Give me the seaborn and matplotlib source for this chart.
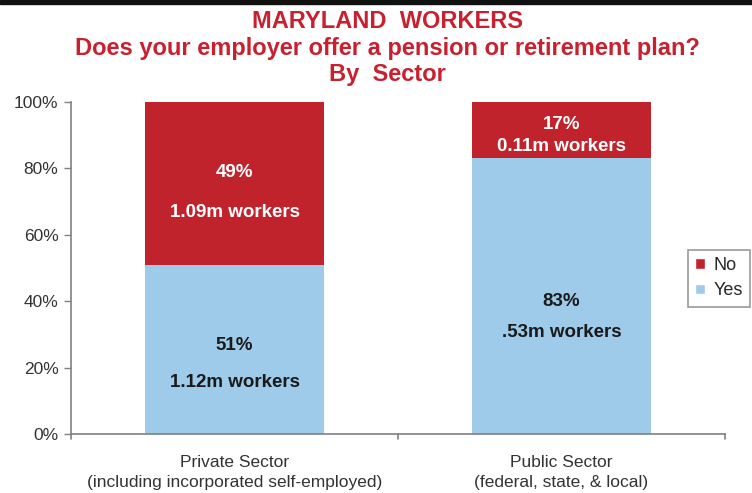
import matplotlib
matplotlib.use("Agg")
import matplotlib.pyplot as plt
import matplotlib.transforms as mtransforms
from matplotlib.patches import Patch, Rectangle
import seaborn as sns
import pandas as pd

# --- data ---------------------------------------------------------------
sectors = ["Private Sector\n(including incorporated self-employed)",
           "Public Sector\n(federal, state, & local)"]
yes_pct = [51, 83]
no_pct = [49, 17]
yes_workers = ["1.12m workers", ".53m workers"]
no_workers = ["1.09m workers", "0.11m workers"]
y_ticks = [0, 20, 40, 60, 80, 100]

# --- style --------------------------------------------------------------
RED = "#C1232C"
BLUE = "#9ECBEA"
TITLE_RED = "#C8202E"
FONT = ["Liberation Sans", "DejaVu Sans"]

sns.set_theme(style="white")
plt.rcParams["font.family"] = FONT

df = pd.DataFrame({"sector": sectors, "yes": yes_pct, "no": no_pct})
df["total"] = df["yes"] + df["no"]

fig = plt.figure(figsize=(7.52, 4.93), dpi=100)
ax = fig.add_axes([71 / 752, 1 - 434 / 493, 654 / 752, 332 / 493])

# stacked bars: full height in red, "Yes" share drawn over it in blue
sns.barplot(data=df, x="sector", y="total", color=RED, width=0.55,
            saturation=1, ax=ax, linewidth=0)
sns.barplot(data=df, x="sector", y="yes", color=BLUE, width=0.55,
            saturation=1, ax=ax, linewidth=0)

ax.set_ylim(0, 100)
ax.set_xlim(-0.5, 1.5)
ax.set_yticks(y_ticks)
ax.set_yticklabels([f"{t}%" for t in y_ticks], fontsize=12.5, color="#333333")
ax.set_xlabel("")
ax.set_ylabel("")
for lbl in ax.get_xticklabels():
    lbl.set_linespacing(1.45)
ax.tick_params(axis="x", length=0, labelsize=12.5, labelcolor="#333333", pad=15)
ax.tick_params(axis="y", left=True, length=5, width=1, color="#808080", pad=4)
for s in ["top", "right"]:
    ax.spines[s].set_visible(False)
for s in ["left", "bottom"]:
    ax.spines[s].set_color("#808080")
    ax.spines[s].set_linewidth(1.2)

# category separators on the x axis
for xb in [-0.5, 0.5, 1.5]:
    ax.plot([xb, xb], [0, -0.015], transform=ax.get_xaxis_transform(),
            color="#808080", lw=1.2, clip_on=False)

# segment labels: percentage above, worker count below (offsets in pixels)
pct_dy_no = [11, 6]
wk_dy_no = [-29, -16]
pct_dy_yes = [4, -5]
wk_dy_yes = [-33, -36]

def label(x, y, text, dy, color):
    tr = mtransforms.offset_copy(ax.transData, fig=fig, y=dy, units="dots")
    ax.text(x, y, text, transform=tr, ha="center", va="center",
            fontsize=13.5, fontweight="bold", color=color)

for i in range(len(sectors)):
    mid_yes = yes_pct[i] / 2
    mid_no = yes_pct[i] + no_pct[i] / 2
    label(i, mid_no, f"{no_pct[i]}%", pct_dy_no[i], "white")
    label(i, mid_no, no_workers[i], wk_dy_no[i], "white")
    label(i, mid_yes, f"{yes_pct[i]}%", pct_dy_yes[i], "#1a1a1a")
    label(i, mid_yes, yes_workers[i], wk_dy_yes[i], "#1a1a1a")

# legend
handles = [Patch(facecolor=RED, label="No"), Patch(facecolor=BLUE, label="Yes")]
leg = fig.legend(handles=handles, loc="upper left",
                 bbox_to_anchor=(688 / 752, 1 - 250 / 493),
                 frameon=True, fancybox=False, fontsize=13,
                 handlelength=0.55, handleheight=0.55, handletextpad=0.45,
                 borderpad=0.4, labelspacing=0.45, borderaxespad=0)
leg.get_frame().set_edgecolor("#808080")
leg.get_frame().set_linewidth(1.2)

# title, one line at a time
title_lines = ["MARYLAND  WORKERS",
               "Does your employer offer a pension or retirement plan?",
               "By  Sector"]
title_y = [22, 48, 74]
for txt, yy in zip(title_lines, title_y):
    fig.text(387 / 752, 1 - yy / 493, txt, ha="center", va="center",
             fontsize=17, fontweight="bold", color=TITLE_RED)

# dark band along the top edge
fig.patches.append(Rectangle((0, 1 - 4 / 493), 1, 4 / 493,
                             transform=fig.transFigure, color="#111111",
                             zorder=10))

fig.savefig("out.png", dpi=100)
